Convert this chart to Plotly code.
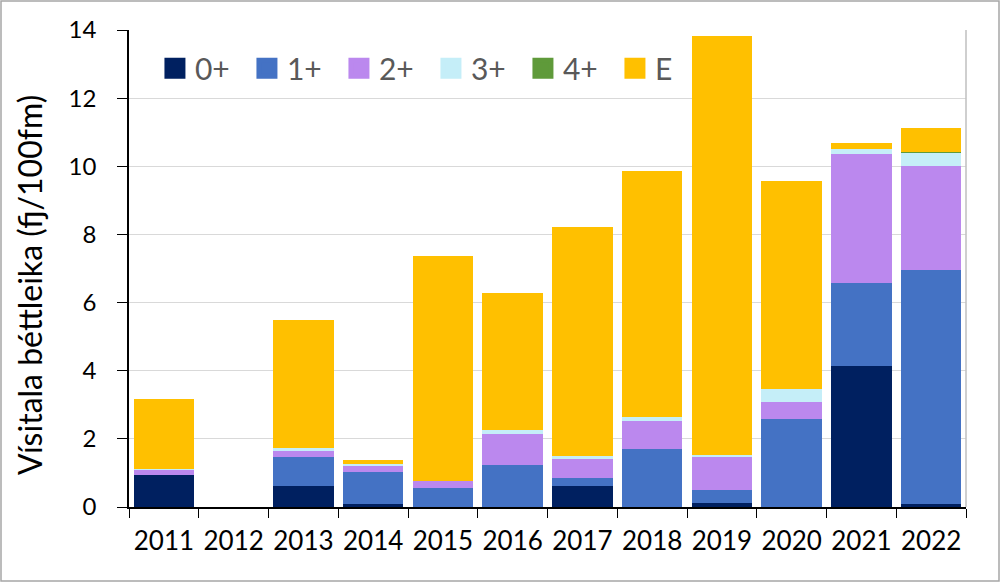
import plotly.graph_objects as go

years = ["2011", "2012", "2013", "2014", "2015", "2016", "2017", "2018", "2019", "2020", "2021", "2022"]
age0 = [0.93, 0, 0.62, 0.10, 0, 0, 0.62, 0, 0.11, 0, 4.14, 0.08]
age1 = [0, 0, 0.84, 0.94, 0.57, 1.24, 0.24, 1.71, 0.38, 2.58, 2.43, 6.89]
age2 = [0.18, 0, 0.17, 0.19, 0.19, 0.89, 0.56, 0.82, 0.99, 0.49, 3.80, 3.04]
age3 = [0.01, 0, 0.09, 0.03, 0, 0.12, 0.07, 0.11, 0.04, 0.38, 0.13, 0.38]
age4 = [0, 0, 0, 0, 0, 0, 0, 0, 0, 0, 0, 0.02]
ageE = [2.05, 0, 3.77, 0.12, 6.61, 4.03, 6.73, 7.22, 12.30, 6.12, 0.18, 0.71]

series = [
    ("0+", age0, "#002060"),
    ("1+", age1, "#4472C4"),
    ("2+", age2, "#BB88EE"),
    ("3+", age3, "#C5EEF8"),
    ("4+", age4, "#5F9A3A"),
    ("E", ageE, "#FFC000"),
]

fig = go.Figure()
for name, vals, col in series:
    fig.add_trace(go.Bar(x=years, y=vals, name=name, showlegend=False,
                         marker=dict(color=col, line=dict(width=0))))
for name, vals, col in series:
    fig.add_trace(go.Scatter(x=[None], y=[None], mode="markers", name=name,
                             marker=dict(symbol="square", size=16, color=col,
                                         line=dict(color=col, width=5))))

W, H = 1000, 582
L, R, T, B = 129, 34, 30, 75
pw, ph = W - L - R, H - T - B

fig.update_layout(
    width=W, height=H,
    barmode="stack", bargap=0.13,
    plot_bgcolor="white", paper_bgcolor="white",
    margin=dict(l=L, r=R, t=T, b=B),
    font=dict(family="Lato, Carlito, Calibri, sans-serif", size=24, color="black"),
    legend=dict(orientation="h", x=0.031, y=0.92, xanchor="left", yanchor="middle",
                font=dict(size=30, color="#595959"), bgcolor="rgba(0,0,0,0)",
                itemwidth=30, entrywidth=47, entrywidthmode="pixels",
                traceorder="normal"),
    xaxis=dict(showline=True, linecolor="black", linewidth=1.5, ticks="outside",
               tickson="boundaries", ticklen=9, tickcolor="black", showgrid=False,
               tickfont=dict(size=26), ticklabelstandoff=10),
    yaxis=dict(range=[0, 14], dtick=2, showline=True, linecolor="black", linewidth=1.5,
               ticks="outside", ticklen=10, tickcolor="black", gridcolor="#D9D9D9",
               gridwidth=1.3, zeroline=False, tickfont=dict(size=24),
               ticklabelstandoff=16),
    annotations=[
        dict(text="Vísitala béttleika (fj/100fm)", textangle=-90, showarrow=False,
             xref="paper", yref="paper", x=(29 - L) / pw, y=(H - B - 285) / ph,
             xanchor="center", yanchor="middle", font=dict(size=32, color="black")),
    ],
    shapes=[
        dict(type="line", xref="paper", yref="paper", x0=1, x1=1, y0=0, y1=1,
             line=dict(color="#BFBFBF", width=1.5)),
        dict(type="rect", xref="paper", yref="paper",
             x0=(1 - L) / pw, x1=(W - 1 - L) / pw,
             y0=(1 - B) / ph, y1=(H - 1 - B) / ph,
             line=dict(color="#A6A6A6", width=1.5), fillcolor="rgba(0,0,0,0)", layer="below"),
    ],
)

fig.write_html("out.html", config={"displayModeBar": False},
               post_script="document.body.style.margin='0';document.body.style.padding='0';")
